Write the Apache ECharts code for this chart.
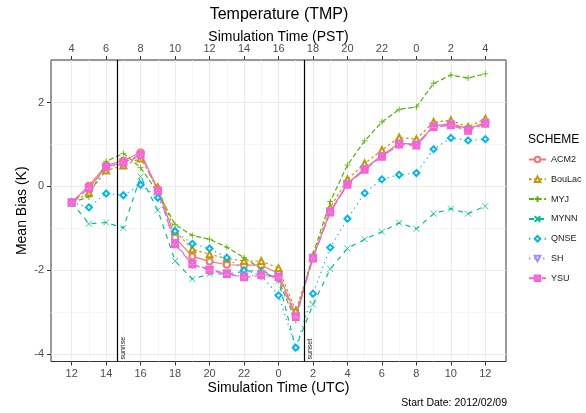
<html>
<head>
<meta charset="utf-8">
<script src="https://cdn.jsdelivr.net/npm/echarts@6/dist/echarts.min.js"></script>
</head>
<body style="margin:0;background:#fff;">
<div id="main" style="width:586px;height:413px;"></div>
<script type="text/javascript">
// hours since 12 UTC
var hours = [0, 1, 2, 3, 4, 5, 6, 7, 8, 9, 10, 11, 12, 13, 14, 15, 16, 17, 18, 19, 20, 21, 22, 23, 24];
var majorTicks = [0, 2, 4, 6, 8, 10, 12, 14, 16, 18, 20, 22, 24];
var minorTicks = [1, 3, 5, 7, 9, 11, 13, 15, 17, 19, 21, 23];
var utcLabels = ['12', '14', '16', '18', '20', '22', '0', '2', '4', '6', '8', '10', '12'];
var pstLabels = ['4', '6', '8', '10', '12', '14', '16', '18', '20', '22', '0', '2', '4'];
var yMajor = [-4, -2, 0, 2];
var yMinor = [-3, -1, 1, 3];

var schemes = ['ACM2', 'BouLac', 'MYJ', 'MYNN', 'QNSE', 'SH', 'YSU'];
var acm2   = [-0.38, 0.02, 0.50, 0.62, 0.81, -0.08, -1.22, -1.67, -1.79, -1.87, -1.88, -1.88, -2.08, -3.06, -1.70, -0.60, 0.07, 0.43, 0.74, 1.03, 1.01, 1.44, 1.50, 1.38, 1.52];
var boulac = [-0.38, -0.15, 0.38, 0.50, 0.67, -0.02, -1.07, -1.50, -1.62, -1.72, -1.78, -1.78, -1.95, -2.97, -1.68, -0.50, 0.17, 0.55, 0.87, 1.17, 1.13, 1.54, 1.58, 1.42, 1.62];
var myj    = [-0.38, -0.25, 0.60, 0.79, 0.45, -0.15, -0.91, -1.17, -1.26, -1.45, -1.70, -1.97, -2.25, -3.20, -1.62, -0.36, 0.51, 1.09, 1.54, 1.84, 1.90, 2.46, 2.66, 2.59, 2.69];
var mynn   = [-0.38, -0.89, -0.86, -0.99, 0.24, -0.57, -1.78, -2.21, -2.09, -2.09, -2.03, -2.00, -2.25, -3.85, -2.82, -1.97, -1.48, -1.26, -1.08, -0.87, -1.01, -0.65, -0.53, -0.65, -0.47];
var qnse   = [-0.38, -0.50, -0.17, -0.21, 0.04, -0.27, -1.07, -1.37, -1.48, -1.70, -2.00, -2.12, -2.60, -3.85, -2.56, -1.46, -0.77, -0.16, 0.17, 0.28, 0.32, 0.89, 1.16, 1.10, 1.13];
var sh     = [-0.38, -0.05, 0.45, 0.55, 0.73, -0.12, -1.35, -1.85, -1.98, -2.07, -2.15, -2.10, -2.15, -3.10, -1.70, -0.60, 0.06, 0.42, 0.73, 1.02, 1.00, 1.43, 1.48, 1.35, 1.52];
var ysu    = [-0.38, -0.04, 0.47, 0.57, 0.76, -0.10, -1.38, -1.86, -2.00, -2.09, -2.17, -2.12, -2.17, -3.12, -1.72, -0.62, 0.04, 0.40, 0.71, 1.00, 0.98, 1.42, 1.46, 1.33, 1.50];
var sunriseHour = 2.64;   // 14:38 UTC
var sunsetHour = 13.49;   // 01:29 UTC

var values = [acm2, boulac, myj, mynn, qnse, sh, ysu];
var colors = ['#F8766D', '#C49A00', '#53B400', '#00C094', '#00B6EB', '#A58AFF', '#FB61D7'];
var dashes = ['solid', [2.6, 2.6], [5, 2.6], [5, 5], [1.3, 3.9], [1.3, 3.9, 5, 3.9], [9, 4]];
var symbols = ['emptyCircle', 'emptyTriangle', 'path://M5,0L5,10M0,5L10,5', 'path://M0,0L10,10M10,0L0,10',
	'emptyDiamond', 'emptyTriangle', 'emptypath://M0,0L10,0L10,10L0,10ZM0,0L10,10M10,0L0,10'];
var rotates = [0, 0, 0, 0, 0, 180, 0];

var font = '"Liberation Sans", Arial, sans-serif';
var myChart = echarts.init(document.getElementById('main'));

var series = schemes.map(function(name, k) {
	return {
		name: name,
		type: 'line',
		xAxisIndex: 0,
		yAxisIndex: 0,
		data: hours.map(function(h, i) { return [h, values[k][i]]; }),
		symbol: symbols[k],
		symbolRotate: rotates[k],
		symbolSize: 6,
		showAllSymbol: true,
		animation: false,
		itemStyle: { color: colors[k], borderColor: colors[k], borderWidth: 0.8 },
		lineStyle: { color: colors[k], width: 1.2, type: dashes[k] },
		emphasis: { disabled: true }
	};
});
series[0].markLine = {
	silent: true,
	symbol: ['none', 'none'],
	animation: false,
	lineStyle: { color: '#000', width: 1.2, type: 'solid' },
	label: { show: true, position: 'insideStartBottom', fontSize: 7, color: '#1a1a1a', fontFamily: font, distance: 2 },
	data: [
		{ xAxis: sunriseHour, label: { formatter: 'sunrise' } },
		{ xAxis: sunsetHour, label: { formatter: 'sunset' } }
	]
};

var gridLine = { show: true, lineStyle: { color: '#EBEBEB', width: 1 } };
var minorLine = { show: true, lineStyle: { color: '#F2F2F2', width: 0.7 } };
var tickLabel = { color: '#4D4D4D', fontSize: 11, fontFamily: font };
var nameStyle = { fontSize: 14, color: '#000', fontFamily: font };

option = {
	animation: false,
	grid: { left: 51, top: 60, width: 455, height: 301.5, show: true, borderColor: '#333', borderWidth: 1, containLabel: false },
	graphic: [
		{ type: 'text', x: 279, y: 15, style: { text: 'Temperature (TMP)', font: '16px ' + font, fill: '#000', textAlign: 'center', textVerticalAlign: 'middle' } },
		{ type: 'text', x: 528, y: 140, style: { text: 'SCHEME', font: '12px ' + font, fill: '#000', textAlign: 'left', textVerticalAlign: 'middle' } },
		{ type: 'text', x: 507, y: 403, style: { text: 'Start Date: 2012/02/09', font: '10.5px ' + font, fill: '#000', textAlign: 'right', textVerticalAlign: 'middle' } }
	],
	legend: {
		data: schemes,
		orient: 'vertical',
		left: 528,
		top: 155,
		padding: 0,
		itemWidth: 17,
		itemHeight: 7,
		itemGap: 10.8,
		textStyle: { fontSize: 9, color: '#1a1a1a', fontFamily: font },
		selectedMode: false
	},
	xAxis: [
		{
			type: 'value', position: 'bottom', min: -1.2, max: 25.2,
			name: 'Simulation Time (UTC)', nameLocation: 'middle', nameGap: 20, nameMoveOverlap: false,
			nameTextStyle: nameStyle,
			axisLine: { show: false, onZero: false },
			axisTick: { show: true, length: 4, customValues: majorTicks, lineStyle: { color: '#333' } },
			axisLabel: Object.assign({ margin: 7, customValues: majorTicks, formatter: function(v) { return utcLabels[majorTicks.indexOf(v)]; } }, tickLabel),
			splitLine: gridLine
		},
		{
			type: 'value', position: 'top', min: -1.2, max: 25.2,
			name: 'Simulation Time (PST)', nameLocation: 'middle', nameGap: 16, nameMoveOverlap: false,
			nameTextStyle: nameStyle,
			axisLine: { show: false, onZero: false },
			axisTick: { show: true, length: 4, customValues: majorTicks, lineStyle: { color: '#333' } },
			axisLabel: Object.assign({ margin: 6, customValues: majorTicks, formatter: function(v) { return pstLabels[majorTicks.indexOf(v)]; } }, tickLabel),
			splitLine: { show: false }
		},
		{
			type: 'value', position: 'bottom', min: -1.2, max: 25.2,
			axisLine: { show: false, onZero: false },
			axisTick: { show: false, customValues: minorTicks },
			axisLabel: { show: false, customValues: minorTicks },
			splitLine: minorLine
		}
	],
	yAxis: [
		{
			type: 'value', min: -4.18, max: 3.02,
			name: 'Mean Bias (K)', nameLocation: 'middle', nameGap: 22, nameMoveOverlap: false,
			nameTextStyle: nameStyle,
			axisLine: { show: false, onZero: false },
			axisTick: { show: true, length: 4, customValues: yMajor, lineStyle: { color: '#333' } },
			axisLabel: Object.assign({ margin: 7, customValues: yMajor }, tickLabel),
			splitLine: gridLine
		},
		{
			type: 'value', min: -4.18, max: 3.02,
			axisLine: { show: false, onZero: false },
			axisTick: { show: false, customValues: yMinor },
			axisLabel: { show: false, customValues: yMinor },
			splitLine: minorLine
		}
	],
	series: series
};
myChart.setOption(option);
</script>
</body>
</html>
